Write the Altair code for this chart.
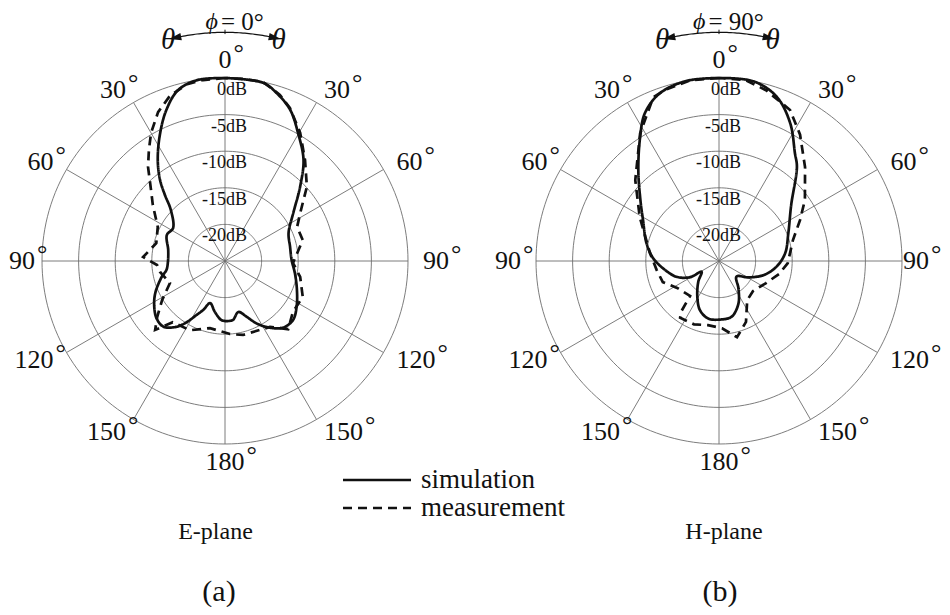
import altair as alt
import pandas as pd
import numpy as np

# ---------------- data ----------------
panel_names = ["E-plane", "H-plane"]
panel_tags = ["(a)", "(b)"]
phi_labels = ["0°", "90°"]
series_names = ["simulation", "measurement"]
ring_db = [0, -5, -10, -15, -20]
spoke_deg = [0, 30, 60, 90, 120, 150, 180, 210, 240, 270, 300, 330]
angle_ticks = [0, 30, 60, 90, 120, 150, 180, -30, -60, -90, -120, -150]

# E-plane (theta in degrees, clockwise from top; gain in dB)
e_sim_theta = [0, -8.7, -15.4, -21.3, -27.3, -33.6, -38.7, -42.3, -46.6, -57.6,
               -65.9, -79.1, -91, -98.8, -104, -114.8, -122.8, -130, -136.8, -143,
               -147.3, -152.3, -156.1, -160.5, -168.8, -176.8, 175.2, 172, 165.3, 158.7,
               153, 146, 138.7, 130.8, 122.5, 112, 100, 89.1, 77.6, 66.1,
               54.9, 45.4, 37.8, 29.8, 23.3, 17.1, 12.1]
e_sim_db = [0, 0, -0.8, -2.9, -5.6, -8.4, -10.8, -12.8, -14.8, -16.6,
            -16.3, -17.1, -17.2, -16.9, -16.1, -14.5, -13.5, -12.8, -12.7, -13.7,
            -14.9, -16.7, -17.7, -18.9, -17.9, -16.9, -16.8, -16.9, -17.8, -16.8,
            -15.4, -14.0, -12.9, -12.7, -13.4, -14.4, -15.3, -15.9, -15.9, -15.5,
            -13.6, -10.6, -7.5, -4.9, -2.5, -1.0, -0.1]
e_meas_theta = [0, -6.9, -12.1, -18.4, -24.2, -30, -34.4, -39.3, -46.2, -52.1,
                -63.1, -75.4, -87.2, -93.4, -99.6, -111.8, -121.8, -129.5, -134.6, -139.5,
                -153.1, -167.4, 176.1, 166.3, 145.7, 137.2, 126.9, 114.8, 102, 91.7,
                74.9, 64.7, 57.4, 47.8, 38.4, 30.4, 23, 18.3, 12, 6.2]
e_meas_db = [0, -0.1, -0.3, -1.2, -2.7, -4.8, -6.6, -8.4, -11.0, -12.5,
             -14.7, -15.3, -13.8, -15.7, -16.0, -16.9, -14.9, -13.0, -11.6, -14.0,
             -14.4, -15.6, -15.0, -14.6, -14.1, -12.3, -13.4, -13.3, -14.5, -15.7,
             -14.0, -14.1, -12.8, -9.9, -7.4, -4.7, -2.3, -1.1, 0, 0]

# H-plane
h_sim_theta = [0, -10.1, -19.4, -26.6, -32.4, -41.6, -53.5, -61.6, -76.2, -87.6,
               -97.5, -110.4, -119.3, -121.7, -135, -148.7, -158.8, -169.4, 179, 167.2,
               155.5, 144.7, 131.6, 119.1, 107.5, 95.6, 83.3, 68.2, 52.1, 39.6,
               35.2, 27.3, 19.3, 10.8]
h_sim_db = [0, 0, -0.7, -2.4, -4.9, -8.4, -11.7, -13.2, -14.8, -16.0,
            -17.3, -18.8, -20.5, -22.2, -21.0, -19.3, -17.8, -17.0, -17.0, -17.2,
            -18.6, -20.4, -21.8, -20.4, -18.6, -17.1, -15.9, -14.8, -12.5, -8.3,
            -7.0, -3.8, -1.2, 0]
h_meas_theta = [0, -9.1, -17.5, -21.9, -31.7, -46, -60.9, -83.4, -98.3, -110.6,
                -122.7, -140.4, -143.3, -145.6, -158.4, -170.2, 177.4, 166.7, 156.1, 144.3,
                131.4, 115.1, 102.2, 91.7, 74.2, 63.2, 54.6, 42.5, 32.7, 25.2,
                15.4, 8.2]
h_meas_db = [0, 0, -0.5, -0.9, -4.5, -9.1, -12.6, -15.5, -16.4, -16.8,
             -18.2, -18.8, -16.3, -15.6, -15.7, -16.1, -15.8, -14.3, -15.9, -18.4,
             -18.8, -17.9, -16.6, -15.6, -14.5, -12.6, -10.6, -7.6, -4.5, -2.2,
             -0.8, 0]

# ---------------- layout helpers ----------------
K = 7.32                       # screen pixels per dB
CX1 = (719 - 225) / K          # x of the H-plane centre (dB units)
FONT = "Liberation Serif"
GRID = "#6e6e6e"


def ux(px):
    return (px - 225) / K


def vy(py):
    return (261 - py) / K


XMIN, XMAX = ux(8), ux(942)
xs = alt.Scale(domain=[XMIN, XMAX], nice=False, zero=False)
ys = alt.Scale(domain=[vy(607), vy(8)], nice=False, zero=False)


def X(f):
    return alt.X(f"{f}:Q", scale=xs, axis=None)


def Y(f):
    return alt.Y(f"{f}:Q", scale=ys, axis=None)


CX = f"datum.panel * {CX1}"
RAD = "PI / 180"

# ---------------- tables ----------------
rows = []
curves = [
    (0, "simulation", e_sim_theta, e_sim_db),
    (0, "measurement", e_meas_theta, e_meas_db),
    (1, "simulation", h_sim_theta, h_sim_db),
    (1, "measurement", h_meas_theta, h_meas_db),
]
for p, s, th, db in curves:
    for i, (a, b) in enumerate(zip(th + [th[0]], db + [db[0]])):
        rows.append({"panel": p, "series": s, "idx": i, "theta": a, "db": b})
pattern = pd.DataFrame(rows)

ring_df = pd.DataFrame([{"panel": p, "db": d, "t": float(t)}
                        for p in (0, 1) for d in ring_db for t in np.arange(0, 361, 2)])
spoke_df = pd.DataFrame([{"panel": p, "a": a} for p in (0, 1) for a in spoke_deg])
dblab_df = pd.DataFrame([{"panel": p, "db": d} for p in (0, 1) for d in ring_db])
ang_df = pd.DataFrame([{"panel": p, "a": a} for p in (0, 1) for a in angle_ticks])
panel_df = pd.DataFrame({"panel": [0, 1], "name": panel_names, "tag": panel_tags, "phi": phi_labels})
arc_df = pd.DataFrame([{"panel": p, "t": float(t)} for p in (0, 1) for t in np.arange(-11.5, 11.51, 0.5)])
arrow_df = pd.DataFrame([{"panel": p, "side": s} for p in (0, 1) for s in (-1, 1)])
theta_df = pd.DataFrame([{"panel": p, "side": s} for p in (0, 1) for s in (-1, 1)])
legend_df = pd.DataFrame({"series": series_names, "row": [0, 1]})

dash_scale = alt.Scale(domain=series_names, range=[[1, 0], [9, 6]])

# ---------------- layers ----------------
rings = alt.Chart(ring_df).transform_calculate(
    r="datum.db + 25",
    x=f"{CX} + datum.r * sin(datum.t * {RAD})",
    y=f"datum.r * cos(datum.t * {RAD})",
).mark_line(stroke=GRID, strokeWidth=0.9).encode(
    x=X("x"), y=Y("y"), detail=["panel:N", "db:N"], order="t:Q")

spokes = alt.Chart(spoke_df).transform_calculate(
    x0=CX, y0="0",
    x1=f"{CX} + 25 * sin(datum.a * {RAD})",
    y1=f"25 * cos(datum.a * {RAD})",
).mark_rule(stroke=GRID, strokeWidth=0.9).encode(
    x=X("x0"), y=Y("y0"), x2="x1:Q", y2="y1:Q")

db_labels = alt.Chart(dblab_df).transform_calculate(
    x=f"{CX} + {22 / K}",
    y=f"datum.db + 25 - {12 / K}",
    label="datum.db + 'dB'",
).mark_text(align="right", baseline="middle", font=FONT, fontSize=18, color="#111").encode(
    x=X("x"), y=Y("y"), text="label:N")

R_SIDE = 27.05
R_CEN = 27.5
NUM_W = 13  # px per digit at 26px


def ang_layer(filt, radius, align, clamp, extra_px):
    base = alt.Chart(ang_df).transform_filter(filt).transform_calculate(
        label="'' + abs(datum.a)",
        x0=f"{CX} + {radius} * sin(datum.a * {RAD})",
        y=f"{radius} * cos(datum.a * {RAD})",
    ).transform_calculate(x=clamp)
    num = base.mark_text(align=align, baseline="middle", font=FONT, fontSize=26, color="#111").encode(
        x=X("x"), y=Y("y"), text="label:N")
    deg = base.transform_calculate(
        xd=f"datum.x + ({extra_px}) / {K}",
        yd=f"datum.y + {7 / K}",
        deg="'°'",
    ).mark_text(align="left", baseline="middle", font=FONT, fontSize=26, color="#111").encode(
        x=X("xd"), y=Y("yd"), text="deg:N")
    return [num, deg]


ang_layers = (
    ang_layer("datum.a < 0", R_SIDE, "right",
              f"max(datum.x0, {XMIN} + (length(datum.label) * {NUM_W} + 1) / {K})", "2")
    + ang_layer("datum.a > 0 && datum.a < 180", R_SIDE, "left",
                f"min(datum.x0, {XMAX} - (length(datum.label) * {NUM_W} + 13) / {K})",
                f"length(datum.label) * {NUM_W} + 2")
    + ang_layer("datum.a == 0 || datum.a == 180", R_CEN, "center", "datum.x0",
                f"length(datum.label) * {NUM_W / 2} + 2")
)

curves_sim = alt.Chart(pattern).transform_filter("datum.series == 'simulation'").transform_calculate(
    r="max(datum.db + 25, 0)",
    x=f"{CX} + datum.r * sin(datum.theta * {RAD})",
    y=f"datum.r * cos(datum.theta * {RAD})",
).mark_line(color="#111", strokeWidth=2.7, interpolate="catmull-rom").encode(
    x=X("x"), y=Y("y"), detail="panel:N", order="idx:Q",
    strokeDash=alt.StrokeDash("series:N", scale=dash_scale, legend=None))

curves_meas = alt.Chart(pattern).transform_filter("datum.series == 'measurement'").transform_calculate(
    r="max(datum.db + 25, 0)",
    x=f"{CX} + datum.r * sin(datum.theta * {RAD})",
    y=f"datum.r * cos(datum.theta * {RAD})",
).mark_line(color="#111", strokeWidth=2.7).encode(
    x=X("x"), y=Y("y"), detail="panel:N", order="idx:Q",
    strokeDash=alt.StrokeDash("series:N", scale=dash_scale, legend=None))

R_ARC = 31.24
arc = alt.Chart(arc_df).transform_calculate(
    x=f"{CX} + {R_ARC} * sin(datum.t * {RAD})",
    y=f"{R_ARC} * cos(datum.t * {RAD})",
).mark_line(color="#111", strokeWidth=1.2).encode(
    x=X("x"), y=Y("y"), detail="panel:N", order="t:Q")

arc_tick = alt.Chart(panel_df).transform_calculate(
    x=CX, y0="31.0", y1="31.6",
).mark_rule(color="#111", strokeWidth=1).encode(x=X("x"), y=Y("y0"), y2="y1:Q")

arrows = alt.Chart(arrow_df).transform_calculate(
    t="datum.side * 12.6",
    x=f"{CX} + {R_ARC} * sin(datum.t * {RAD})",
    y=f"{R_ARC} * cos(datum.t * {RAD})",
    ang="datum.side < 0 ? 348.5 : 191.5",
).mark_point(shape="M -1 0 L 1 -0.6 L 1 0.6 Z", filled=True, color="#111", opacity=1, size=150).encode(
    x=X("x"), y=Y("y"), angle=alt.Angle("ang:Q", scale=None))

thetas = alt.Chart(theta_df).transform_calculate(
    x=f"{CX} + (datum.side < 0 ? -57 : 53.5) / {K}",
    y=f"{vy(40)}",
    lab="'θ'",
).mark_text(align="center", baseline="middle", font=FONT, fontSize=29, fontStyle="italic", color="#111").encode(
    x=X("x"), y=Y("y"), text="lab:N")

TITLE_Y = vy(22)
phi_sym = alt.Chart(panel_df).transform_calculate(
    x=f"{CX} + (-7 - 6.5 * (length(datum.phi) - 2)) / {K}",
    y=f"{TITLE_Y}",
    lab="'ϕ'",
).mark_text(align="right", baseline="middle", font=FONT, fontSize=24, fontStyle="italic", color="#111").encode(
    x=X("x"), y=Y("y"), text="lab:N")

phi_val = alt.Chart(panel_df).transform_calculate(
    x=f"{CX} + (-4 - 6.5 * (length(datum.phi) - 2)) / {K}",
    y=f"{TITLE_Y}",
    lab="'= ' + datum.phi",
).mark_text(align="left", baseline="middle", font=FONT, fontSize=25, color="#111").encode(
    x=X("x"), y=Y("y"), text="lab:N")

names = alt.Chart(panel_df).transform_calculate(
    x=f"{CX} + (datum.panel == 0 ? -9.5 : 5) / {K}",
    y=f"{vy(532)}",
).mark_text(align="center", baseline="middle", font=FONT, fontSize=24, color="#111").encode(
    x=X("x"), y=Y("y"), text="name:N")

tags = alt.Chart(panel_df).transform_calculate(
    x=f"{CX} + (datum.panel == 0 ? -6 : 1) / {K}",
    y=f"{vy(592)}",
).mark_text(align="center", baseline="middle", font=FONT, fontSize=30, color="#111").encode(
    x=X("x"), y=Y("y"), text="tag:N")

leg_lines = alt.Chart(legend_df).transform_calculate(
    x0=f"{ux(343)}", x1=f"{ux(411)}",
    y=f"{vy(480)} - datum.row * {28 / K}",
).mark_rule(color="#111", strokeWidth=2.7).encode(
    x=X("x0"), x2="x1:Q", y=Y("y"),
    strokeDash=alt.StrokeDash("series:N", scale=dash_scale, legend=None))

leg_text = alt.Chart(legend_df).transform_calculate(
    x=f"{ux(421)}",
    y=f"{vy(480)} - datum.row * {28 / K}",
).mark_text(align="left", baseline="middle", font=FONT, fontSize=27, color="#111").encode(
    x=X("x"), y=Y("y"), text="series:N")

chart = alt.layer(
    rings, spokes, db_labels, *ang_layers, curves_sim, curves_meas,
    arc, arc_tick, arrows, thetas, phi_sym, phi_val, names, tags, leg_lines, leg_text,
).properties(
    width=934, height=599, padding=0, autosize="none", background="white",
).configure_view(stroke=None)

chart.save("out.html", embed_options={"renderer": "svg", "actions": False})
